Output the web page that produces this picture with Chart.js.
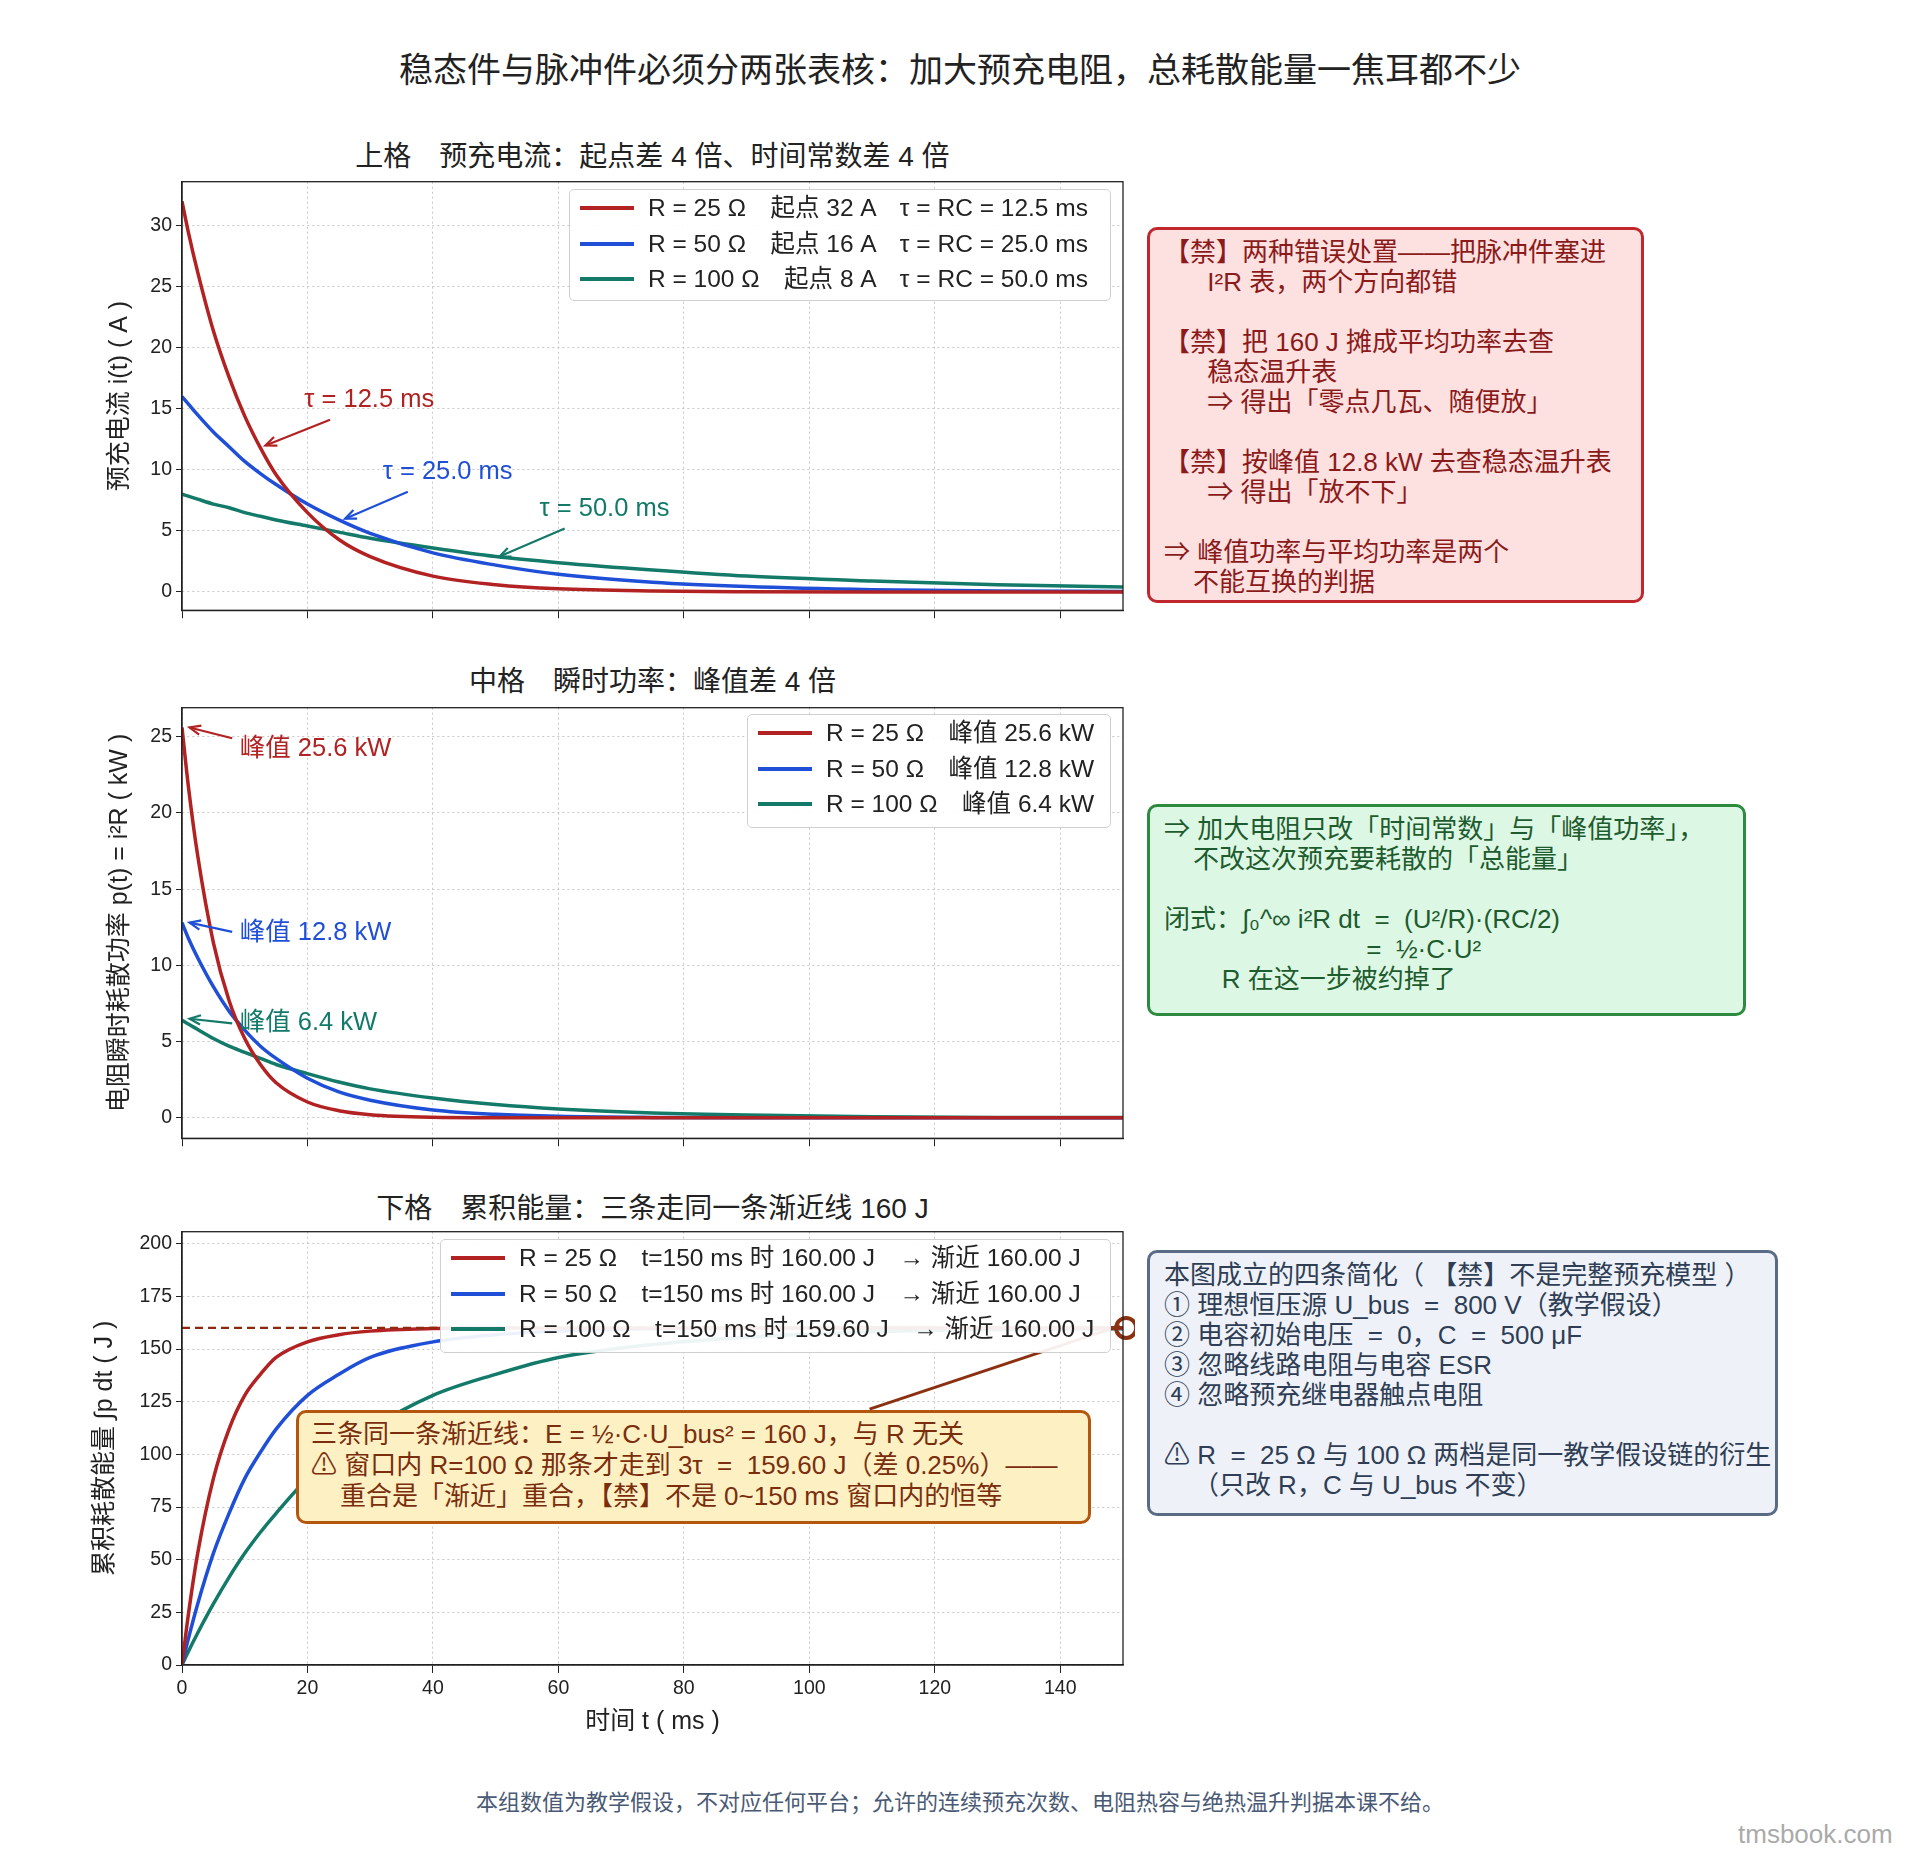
<!DOCTYPE html>
<html><head><meta charset="utf-8">
<script src="https://cdn.jsdelivr.net/npm/chart.js@4.4.1/dist/chart.umd.min.js"></script>
<style>
body{margin:0;width:1920px;height:1860px;background:#fff;position:relative;font-family:"Liberation Sans","Noto Sans CJK SC",sans-serif;color:#222}
.abs{position:absolute;white-space:pre}
canvas{position:absolute;left:0}
.ttl{position:absolute;font-size:28px;text-align:center;width:941px;left:182px}
.lg{position:absolute;background:rgba(255,255,255,0.92);border:1.5px solid #d0d0d0;border-radius:5px;font-size:24.5px}
.lg div{position:relative;height:35.5px;line-height:35.5px;padding-left:78px;white-space:pre}
.lg span{position:absolute;left:10px;top:16px;width:54px;height:4px}
.box{position:absolute;border:3px solid;border-radius:10px;font-size:26px;line-height:30px;padding:7px 14px;white-space:pre;box-sizing:border-box}
</style></head><body>
<div class="abs" style="left:0;width:1920px;text-align:center;top:43px;font-size:34px">稳态件与脉冲件必须分两张表核：加大预充电阻，总耗散能量一焦耳都不少</div>
<div class="ttl" style="top:134px">上格　预充电流：起点差 4 倍、时间常数差 4 倍</div>
<div class="ttl" style="top:659px">中格　瞬时功率：峰值差 4 倍</div>
<div class="ttl" style="top:1186px">下格　累积能量：三条走同一条渐近线 160 J</div>
<canvas id="c1"></canvas><canvas id="c2"></canvas><canvas id="c3"></canvas>
<div class="lg" style="left:569px;top:189px;width:540px;height:110px"><div><span style="background:#b22222"></span>R = 25 Ω　起点 32 A　τ = RC = 12.5 ms</div><div><span style="background:#1f4fd6"></span>R = 50 Ω　起点 16 A　τ = RC = 25.0 ms</div><div><span style="background:#137a6a"></span>R = 100 Ω　起点 8 A　τ = RC = 50.0 ms</div></div>
<div class="lg" style="left:747px;top:714px;width:362px;height:112px"><div><span style="background:#b22222"></span>R = 25 Ω　峰值 25.6 kW</div><div><span style="background:#1f4fd6"></span>R = 50 Ω　峰值 12.8 kW</div><div><span style="background:#137a6a"></span>R = 100 Ω　峰值 6.4 kW</div></div>
<div class="lg" style="left:440px;top:1239px;width:669px;height:112px"><div><span style="background:#b22222"></span>R = 25 Ω　t=150 ms 时 160.00 J　→ 渐近 160.00 J</div><div><span style="background:#1f4fd6"></span>R = 50 Ω　t=150 ms 时 160.00 J　→ 渐近 160.00 J</div><div><span style="background:#137a6a"></span>R = 100 Ω　t=150 ms 时 159.60 J　→ 渐近 160.00 J</div></div>
<div class="box" style="left:1147px;top:227px;width:497px;height:376px;background:#fde0e0;border-color:#c0282d;color:#8b1a1a">【禁】两种错误处置——把脉冲件塞进
      I²R 表，两个方向都错

【禁】把 160 J 摊成平均功率去查
      稳态温升表
      ⇒ 得出「零点几瓦、随便放」

【禁】按峰值 12.8 kW 去查稳态温升表
      ⇒ 得出「放不下」

⇒ 峰值功率与平均功率是两个
    不能互换的判据</div>
<div class="box" style="left:1147px;top:804px;width:599px;height:212px;background:#dcf7e4;border-color:#2d8a3e;color:#1e5b2e">⇒ 加大电阻只改「时间常数」与「峰值功率」，
    不改这次预充要耗散的「总能量」

闭式：∫₀^∞ i²R dt  =  (U²/R)·(RC/2)
                            =  ½·C·U²
        R 在这一步被约掉了</div>
<div class="box" style="left:1147px;top:1250px;width:631px;height:266px;background:#eef2f8;border-color:#5a6b85;color:#2f3e55">本图成立的四条简化（ 【禁】不是完整预充模型 ）
① 理想恒压源 U_bus  =  800 V（教学假设）
② 电容初始电压  =  0，C  =  500 μF
③ 忽略线路电阻与电容 ESR
④ 忽略预充继电器触点电阻

⚠ R  =  25 Ω 与 100 Ω 两档是同一教学假设链的衍生
    （只改 R，C 与 U_bus 不变）</div>
<div class="box" style="left:296px;top:1410px;width:795px;height:114px;background:#fdf1c4;border-color:#b5560f;color:#7a2e0e;z-index:2;font-size:26px;line-height:31px;padding:6px 12px">三条同一条渐近线：E = ½·C·U_bus² = 160 J，与 R 无关
⚠ 窗口内 R=100 Ω 那条才走到 3τ  =  159.60 J（差 0.25%）——
    重合是「渐近」重合，【禁】不是 0~150 ms 窗口内的恒等</div>
<div class="abs" style="left:0;width:1920px;text-align:center;top:1784px;font-size:22px;color:#4a5a75">本组数值为教学假设，不对应任何平台；允许的连续预充次数、电阻热容与绝热温升判据本课不给。</div>
<div class="abs" style="left:1738px;top:1819px;font-size:26px;color:#aaa">tmsbook.com</div>
<script>
const tms = [0, 1, 2.5, 5, 7.5, 10, 12.5, 15, 20, 25, 30, 40, 50, 60, 75, 90, 110, 130, 150];
const i25 = [32, 29.5, 26.2, 21.4, 17.6, 14.4, 11.8, 9.6, 6.5, 4.3, 2.9, 1.3, 0.6, 0.26, 0.08, 0.02, 0, 0, 0];
const i50 = [16, 15.4, 14.5, 13.1, 11.9, 10.7, 9.7, 8.8, 7.2, 5.9, 4.8, 3.2, 2.2, 1.45, 0.8, 0.44, 0.19, 0.09, 0.04];
const i100 = [8, 7.85, 7.6, 7.2, 6.9, 6.5, 6.2, 5.9, 5.4, 4.9, 4.4, 3.6, 2.9, 2.4, 1.8, 1.3, 0.9, 0.6, 0.4];
const p25 = [25.6, 21.8, 17.2, 11.5, 7.7, 5.2, 3.5, 2.3, 1.04, 0.47, 0.21, 0.04, 0.01, 0, 0, 0, 0, 0, 0];
const p50 = [12.8, 11.8, 10.5, 8.6, 7.0, 5.75, 4.7, 3.9, 2.6, 1.7, 1.16, 0.52, 0.23, 0.1, 0.03, 0.01, 0, 0, 0];
const p100 = [6.4, 6.15, 5.8, 5.2, 4.7, 4.3, 3.9, 3.5, 2.9, 2.35, 1.9, 1.3, 0.87, 0.58, 0.32, 0.18, 0.08, 0.03, 0.02];
const e25 = [0, 23.6, 53, 88.5, 112, 128, 138, 146, 153.4, 156.8, 158.5, 159.7, 160, 160, 160, 160, 160, 160, 160];
const e50 = [0, 12.3, 29, 53, 72, 88.5, 101, 112, 128, 138, 146, 153.4, 156.8, 158.5, 159.6, 160, 160, 160, 160];
const e100 = [0, 6.3, 15.2, 29, 41.6, 53, 63, 72, 88.5, 101, 112, 128, 138, 146, 152.1, 155.6, 158.2, 159.2, 159.6];
const xTicks = [0, 20, 40, 60, 80, 100, 120, 140];

const cols = ['#b22222', '#1f4fd6', '#137a6a'];
const FONT = '"Liberation Sans","Noto Sans CJK SC",sans-serif';

// annotations per chart: text labels and arrows in data coords
function annoPlugin(items) {
  return {
    id: 'anno',
    afterDatasetsDraw(chart) {
      const c = chart.ctx, x = chart.scales.x, y = chart.scales.y;
      c.save();
      for (const a of items) {
        c.strokeStyle = a.color; c.fillStyle = a.color; c.lineWidth = 2.2;
        if (a.type === 'arrow') {
          const x1 = x.getPixelForValue(a.from[0]), y1 = y.getPixelForValue(a.from[1]);
          const x2 = x.getPixelForValue(a.to[0]), y2 = y.getPixelForValue(a.to[1]);
          c.beginPath(); c.moveTo(x1, y1); c.lineTo(x2, y2); c.stroke();
          const ang = Math.atan2(y2 - y1, x2 - x1);
          c.beginPath(); c.moveTo(x2 - 12 * Math.cos(ang - 0.4), y2 - 12 * Math.sin(ang - 0.4));
          c.lineTo(x2, y2); c.lineTo(x2 - 12 * Math.cos(ang + 0.4), y2 - 12 * Math.sin(ang + 0.4)); c.stroke();
        } else if (a.type === 'text') {
          c.font = '25.5px ' + FONT; c.textBaseline = 'middle';
          c.fillText(a.text, x.getPixelForValue(a.at[0]), y.getPixelForValue(a.at[1]));
        } else if (a.type === 'hline') {
          c.setLineDash([8, 5]); c.lineWidth = 2.2;
          c.beginPath(); c.moveTo(x.getPixelForValue(0), y.getPixelForValue(a.y)); c.lineTo(x.getPixelForValue(150), y.getPixelForValue(a.y)); c.stroke();
          c.setLineDash([]);
        } else if (a.type === 'line') {
          c.lineWidth = 3;
          c.beginPath(); c.moveTo(x.getPixelForValue(a.from[0]), y.getPixelForValue(a.from[1])); c.lineTo(x.getPixelForValue(a.to[0]), y.getPixelForValue(a.to[1])); c.stroke();
        } else if (a.type === 'ring') {
          c.lineWidth = 4;
          c.beginPath(); c.arc(x.getPixelForValue(a.at[0]), y.getPixelForValue(a.at[1]), 10, 0, Math.PI * 2); c.stroke();
        }
      }
      c.restore();
    }
  };
}

function makeChart(id, top, plotH, bottomH, series, yMin, yMax, yStep, yTitle, titleOff, showX, items) {
  const el = document.getElementById(id);
  const H = plotH + 10 + bottomH;
  el.style.top = (top - 10) + 'px';
  el.width = 1135; el.height = H;
  el.style.width = '1135px'; el.style.height = H + 'px';
  new Chart(el, {
    type: 'line',
    data: {
      datasets: series.map((s, k) => ({
        data: tms.map((t, j) => ({ x: t, y: s[j] })),
        borderColor: cols[k], borderWidth: 3.5, pointRadius: 0,
        cubicInterpolationMode: 'monotone', fill: false
      }))
    },
    options: {
      responsive: false, animation: false, devicePixelRatio: 1,
      layout: { padding: { top: 10, right: 12, left: 0, bottom: 0 } },
      plugins: { legend: { display: false }, tooltip: { enabled: false } },
      scales: {
        x: {
          type: 'linear', min: 0, max: 150,
          afterBuildTicks: s => { s.ticks = xTicks.map(v => ({ value: v })); },
          afterFit: s => { s.height = bottomH; },
          grid: { color: '#c8c8c8', lineWidth: 1, tickLength: 8, tickColor: '#222', tickBorderDash: [] },
          border: { color: '#222', width: 1.3, dash: [2, 3] },
          ticks: { display: showX, color: '#222', font: { size: 19.5, family: FONT }, maxRotation: 0, padding: 4 },
          title: { display: showX, text: '时间 t ( ms )', color: '#222', font: { size: 25, family: FONT }, padding: { top: 0, bottom: 0 } }
        },
        y: {
          min: yMin, max: yMax,
          afterBuildTicks: s => { const t = []; for (let v = 0; v <= yMax; v += yStep) t.push({ value: v }); s.ticks = t; },
          afterFit: s => { s.width = 182; },
          grid: { color: '#c8c8c8', lineWidth: 1, tickLength: 6, tickColor: '#222', tickBorderDash: [] },
          border: { color: '#222', width: 1.3, dash: [2, 3] },
          ticks: { color: '#222', font: { size: 19.5, family: FONT }, padding: 4 },
          title: { display: false }
        }
      }
    },
    plugins: [annoPlugin(items), {
      id: 'frame',
      afterDraw(chart) {
        const a = chart.chartArea, c = chart.ctx;
        c.save(); c.strokeStyle = '#222'; c.lineWidth = 1.3;
        c.strokeRect(a.left, a.top, a.right - a.left, a.bottom - a.top);
        c.translate(a.left - titleOff, (a.top + a.bottom) / 2); c.rotate(-Math.PI / 2);
        c.fillStyle = '#222'; c.font = '25px ' + FONT; c.textAlign = 'center'; c.textBaseline = 'middle';
        c.fillText(yTitle, 0, 0);
        c.restore();
      }
    }]
  });
}

makeChart('c1', 176, 436, 14, [i25, i50, i100], -1.5, 33.6, 5, '预充电流 i(t) ( A )', 62, false, [
  { type: 'text', text: 'τ = 12.5 ms', at: [19.5, 15.7], color: cols[0] },
  { type: 'arrow', from: [23.6, 14.1], to: [13.3, 12.0], color: cols[0] },
  { type: 'text', text: 'τ = 25.0 ms', at: [32, 9.8], color: cols[1] },
  { type: 'arrow', from: [36, 8.2], to: [26, 6.0], color: cols[1] },
  { type: 'text', text: 'τ = 50.0 ms', at: [57, 6.8], color: cols[2] },
  { type: 'arrow', from: [61, 5.2], to: [50.6, 2.9], color: cols[2] }
]);
makeChart('c2', 702, 438, 14, [p25, p50, p100], -1.34, 26.9, 5, '电阻瞬时耗散功率 p(t) = i²R ( kW )', 62, false, [
  { type: 'text', text: '峰值 25.6 kW', at: [9.2, 24.2], color: cols[0] },
  { type: 'arrow', from: [8, 24.9], to: [1.2, 25.6], color: cols[0] },
  { type: 'text', text: '峰值 12.8 kW', at: [9.2, 12.1], color: cols[1] },
  { type: 'arrow', from: [8, 12.2], to: [1.2, 12.8], color: cols[1] },
  { type: 'text', text: '峰值 6.4 kW', at: [9.2, 6.2], color: cols[2] },
  { type: 'arrow', from: [8, 6.2], to: [1.2, 6.5], color: cols[2] }
]);
makeChart('c3', 1226, 439, 72, [e25, e50, e100], 0, 205.7, 25, '累积耗散能量 ∫p dt ( J )', 77, true, [
  { type: 'hline', y: 160, color: '#8b2a0e' },
  { type: 'line', from: [109.6, 121.5], to: [149.5, 161], color: '#8b3010' },
  { type: 'ring', at: [150.5, 160], color: '#8b3010' }
]);
</script>
</body></html>
